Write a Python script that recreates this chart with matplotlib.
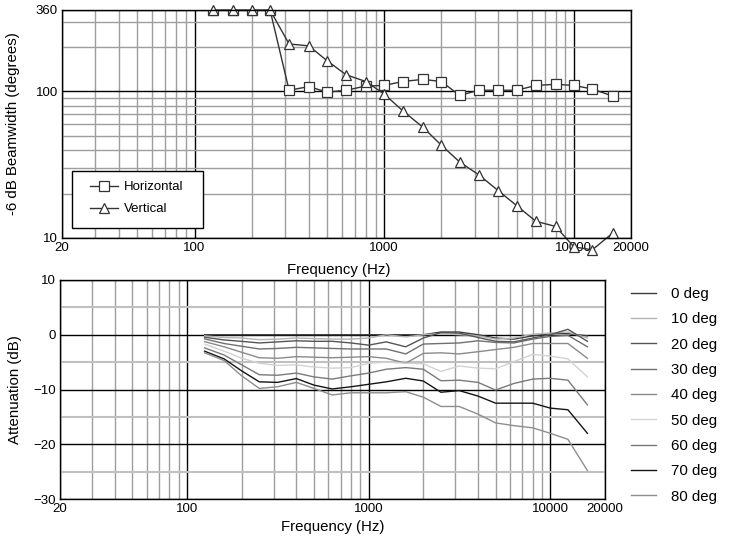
import numpy as np
import matplotlib
matplotlib.use("Agg")
import matplotlib.pyplot as plt
from matplotlib.patches import Rectangle
from matplotlib.ticker import FixedLocator, NullFormatter

plt.rcParams["font.family"] = ["Liberation Sans", "DejaVu Sans"]

# -----------------------------------------------------------------------------
# Data
# -----------------------------------------------------------------------------
freq = [125, 160, 200, 250, 315, 400, 500, 630, 800, 1000, 1250, 1600,
        2000, 2500, 3150, 4000, 5000, 6300, 8000, 10000, 12500, 16000]

# -6 dB beamwidth (degrees)
beam_horizontal = [360, 360, 360, 360, 102, 108, 99, 102, 109, 110, 117, 121,
                   117, 94, 102, 102, 102, 110, 112, 110, 104, 93]
beam_vertical = [360, 360, 360, 360, 211, 205, 162, 130, 117, 96, 74, 57,
                 43, 33, 27, 21, 16.6, 13, 12, 8.7, 8.3, 10.8]

# Off-axis attenuation (dB)
angle_labels = ["0 deg", "10 deg", "20 deg", "30 deg", "40 deg",
                "50 deg", "60 deg", "70 deg", "80 deg"]
att_0 = [0, 0, 0, 0, 0, 0, 0, 0, 0, 0, 0, 0, 0, 0.5, 0.5, 0.0, -0.6, -0.8,
         -0.2, 0.2, 0.2, -0.2]
att_10 = [-0.2, -0.5, -0.6, -0.9, -0.8, -0.6, -0.7, -0.8, -0.8, -0.6, 0.0,
          -0.4, 0.0, 0.2, 0.0, -0.2, -0.8, -0.6, 0.1, 0.3, 0.5, -0.6]
att_20 = [-0.45, -0.95, -1.2, -1.5, -1.3, -1.1, -1.2, -1.2, -1.5, -1.9, -1.3,
          -2.2, -0.6, 0.4, 0.3, -0.5, -1.2, -1.3, -0.6, 0.0, 1.0, -1.2]
att_30 = [-0.75, -1.6, -2.1, -2.6, -2.5, -2.3, -2.4, -2.5, -2.6, -2.6, -2.6,
          -3.5, -1.7, -1.6, -1.5, -1.1, -1.4, -1.5, -0.8, -0.3, -0.1, -2.2]
att_40 = [-1.25, -2.2, -3.2, -4.2, -4.3, -4.0, -4.1, -4.2, -4.1, -4.0, -4.3,
          -5.2, -3.4, -3.3, -3.5, -3.1, -2.7, -2.3, -1.6, -1.6, -1.6, -4.3]
att_50 = [-1.7, -3.0, -4.3, -5.2, -5.6, -5.5, -5.9, -6.1, -6.0, -5.2, -5.0,
          -5.2, -5.3, -6.7, -5.7, -6.1, -6.2, -4.9, -3.6, -3.9, -4.4, -7.7]
att_60 = [-2.4, -3.7, -5.5, -7.3, -7.4, -7.0, -7.7, -8.1, -7.5, -7.0, -6.3,
          -6.0, -6.3, -8.4, -8.3, -8.7, -10.1, -8.9, -8.1, -7.95, -8.3, -12.8]
att_70 = [-3.0, -4.4, -6.6, -8.6, -8.7, -8.0, -9.2, -9.9, -9.5, -9.05, -8.6,
          -7.95, -8.45, -10.5, -10.2, -11.2, -12.5, -12.5, -12.5, -13.4,
          -13.7, -18.0]
att_80 = [-3.3, -4.7, -7.5, -9.8, -9.5, -8.7, -9.8, -11.0, -10.6, -10.6,
          -10.6, -10.4, -11.4, -13.1, -13.1, -14.5, -16.1, -16.6, -17.0,
          -18.0, -19.1, -24.8]

att_series = [att_0, att_10, att_20, att_30, att_40,
              att_50, att_60, att_70, att_80]
att_colors = ["#3c3c3c", "#b4b4b4", "#555555", "#707070", "#8a8a8a",
              "#d2d2d2", "#7a7a7a", "#151515", "#8e8e8e"]

x_ticks = [20, 100, 1000, 10000, 20000]
x_minor = [30, 40, 50, 60, 70, 80, 90, 200, 300, 400, 500, 600, 700, 800,
           900, 2000, 3000, 4000, 5000, 6000, 7000, 8000, 9000]

W, H = 735, 543
fig = plt.figure(figsize=(W / 100, H / 100), dpi=100)

TICK_FS = 9.5
LABEL_FS = 10.8


def style_freq_axis(ax):
    ax.set_xscale("log")
    ax.set_xlim(20, 20000)
    ax.xaxis.set_major_locator(FixedLocator(x_ticks))
    ax.xaxis.set_minor_locator(FixedLocator(x_minor))
    ax.xaxis.set_minor_formatter(NullFormatter())
    ax.set_xticklabels([str(t) for t in x_ticks])
    ax.tick_params(which="both", length=0, labelsize=TICK_FS, pad=3)
    for sp in ax.spines.values():
        sp.set_linewidth(1.0)
        sp.set_color("black")
        sp.set_zorder(6)


# -----------------------------------------------------------------------------
# Top panel: beamwidth
# -----------------------------------------------------------------------------
ax1 = fig.add_axes([62 / W, 1 - 238 / H, 569 / W, 228 / H])
style_freq_axis(ax1)
ax1.set_yscale("log")
ax1.set_ylim(10, 360)
ax1.yaxis.set_major_locator(FixedLocator([10, 100, 360]))
ax1.yaxis.set_minor_locator(FixedLocator([20, 30, 40, 50, 60, 70, 80, 90,
                                          200, 300]))
ax1.yaxis.set_minor_formatter(NullFormatter())
ax1.set_yticklabels(["10", "100", "360"])

ax1.grid(which="major", color="black", linewidth=1.0, zorder=0)
ax1.grid(which="minor", color="#9e9e9e", linewidth=1.0, zorder=0)
ax1.set_axisbelow(True)

ax1.plot(freq, beam_horizontal, color="#333333", linewidth=1.0,
         marker="s", markersize=6.5, markerfacecolor="white",
         markeredgecolor="#333333", markeredgewidth=0.9,
         label="Horizontal", zorder=3)
ax1.plot(freq, beam_vertical, color="#333333", linewidth=1.0,
         marker="^", markersize=7.5, markerfacecolor="white",
         markeredgecolor="#333333", markeredgewidth=0.9,
         label="Vertical", zorder=3, clip_on=False)

ax1.add_patch(Rectangle((10 / 569, 10 / 228), 131 / 569, 57 / 228,
                        transform=ax1.transAxes, facecolor="white",
                        edgecolor="black", linewidth=1.0, zorder=4))
leg1 = ax1.legend(loc="upper left", bbox_to_anchor=(28 / 569, 57 / 228),
                  frameon=False, borderpad=0, borderaxespad=0,
                  handlelength=2.1, handletextpad=0.5, labelspacing=0.75,
                  fontsize=TICK_FS)
leg1.set_zorder(5)

ax1.set_xlabel("Frequency (Hz)", fontsize=LABEL_FS)
ax1.xaxis.set_label_coords(277 / 569, -25 / 228)
ax1.set_ylabel("-6 dB Beamwidth (degrees)", fontsize=LABEL_FS)
ax1.yaxis.set_label_coords(-42 / 569, 0.5)

# -----------------------------------------------------------------------------
# Bottom panel: attenuation
# -----------------------------------------------------------------------------
ax2 = fig.add_axes([60 / W, 1 - 499 / H, 545 / W, 219 / H])
style_freq_axis(ax2)
ax2.set_ylim(-30, 10)
ax2.yaxis.set_major_locator(FixedLocator([-30, -20, -10, 0, 10]))
ax2.yaxis.set_minor_locator(FixedLocator([-25, -15, -5, 5]))
ax2.yaxis.set_minor_formatter(NullFormatter())

ax2.grid(which="major", color="black", linewidth=1.0, zorder=0)
ax2.grid(which="minor", axis="x", color="#9e9e9e", linewidth=1.0, zorder=0)
ax2.grid(which="minor", axis="y", color="#c0c0c0", linewidth=1.5, zorder=0)
ax2.set_axisbelow(True)

for label, values, color in zip(angle_labels, att_series, att_colors):
    ax2.plot(freq, values, color=color, linewidth=1.0, label=label, zorder=3)

ax2.set_xlabel("Frequency (Hz)", fontsize=LABEL_FS)
ax2.xaxis.set_label_coords(273 / 545, -21 / 219)
ax2.set_ylabel("Attenuation (dB)", fontsize=LABEL_FS)
ax2.yaxis.set_label_coords(-38 / 545, 0.5)

handles, labels = ax2.get_legend_handles_labels()
fig.legend(handles, labels, loc="upper left",
           bbox_to_anchor=(631 / W, 1 - 287 / H),
           frameon=False, borderpad=0, borderaxespad=0,
           handlelength=1.65, handletextpad=1.0, labelspacing=0.755,
           fontsize=LABEL_FS)

fig.savefig("out.png", dpi=100)
